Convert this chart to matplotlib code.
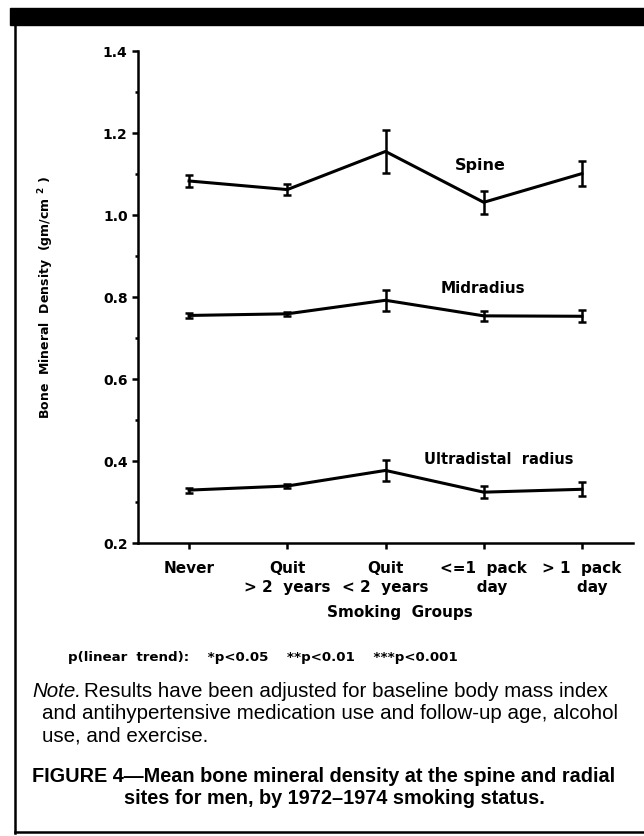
import numpy as np
import matplotlib
matplotlib.use("Agg")
import matplotlib.pyplot as plt
from matplotlib.ticker import MultipleLocator, FormatStrFormatter
from matplotlib.patches import Rectangle
from matplotlib.lines import Line2D

# smoking groups (x axis)
groups = ["Never", "Quit\n> 2  years", "Quit\n< 2  years", "<=1  pack\n   day", "> 1  pack\n    day"]

# mean bone mineral density and error bar half-widths
spine_mean = [1.083, 1.062, 1.155, 1.031, 1.101]
spine_err = [0.015, 0.013, 0.053, 0.028, 0.031]
mid_mean = [0.755, 0.759, 0.792, 0.754, 0.753]
mid_err = [0.006, 0.005, 0.025, 0.012, 0.015]
ultra_mean = [0.329, 0.339, 0.377, 0.324, 0.331]
ultra_err = [0.006, 0.005, 0.026, 0.014, 0.017]

series_names = ["Spine", "Midradius", "Ultradistal  radius"]

W, H = 644, 837
fig = plt.figure(figsize=(W / 100, H / 100), dpi=100)
fig.patch.set_facecolor("white")

# header bar and frame of the printed figure
fig.patches.append(Rectangle((10 / W, 1 - 26 / H), 1, 17 / H, transform=fig.transFigure,
                             color="black", zorder=0))
fig.lines.append(Line2D([15 / W, 15 / W], [1 - 26 / H, 1 - 834 / H], transform=fig.transFigure,
                        color="black", lw=1.8))
fig.lines.append(Line2D([15 / W, 1], [1 - 833 / H, 1 - 833 / H], transform=fig.transFigure,
                        color="black", lw=1.8))

ax = fig.add_axes([138 / W, 1 - 544 / H, (633 - 138) / W, (544 - 52) / H])
x = np.arange(len(groups))

for m, e in [(spine_mean, spine_err), (mid_mean, mid_err), (ultra_mean, ultra_err)]:
    ax.errorbar(x, m, yerr=e, color="black", lw=2.2, elinewidth=1.8,
                capsize=3.2, capthick=1.8)

bold = dict(family="DejaVu Sans", fontweight="bold")
ax.text(2.97, 1.123, series_names[0], fontsize=11.5, ha="center", va="center", **bold)
ax.text(2.99, 0.822, series_names[1], fontsize=11, ha="center", va="center", **bold)
ax.text(3.15, 0.405, series_names[2], fontsize=10.5, ha="center", va="center", **bold)

ax.set_xlim(-0.52, 4.52)
ax.set_ylim(0.2, 1.4)
ax.yaxis.set_major_locator(MultipleLocator(0.2))
ax.yaxis.set_minor_locator(MultipleLocator(0.1))
ax.yaxis.set_major_formatter(FormatStrFormatter("%.1f"))
ax.set_xticks(x)
ax.set_xticklabels(groups, fontsize=11, linespacing=1.3, **bold)
for lab in ax.get_yticklabels():
    lab.set_fontsize(10)
    lab.set_fontweight("bold")
    lab.set_family("DejaVu Sans")

ax.spines["top"].set_visible(False)
ax.spines["right"].set_visible(False)
ax.spines["left"].set_linewidth(1.8)
ax.spines["bottom"].set_linewidth(1.8)
ax.tick_params(axis="y", which="major", length=4.5, width=1.8, pad=3)
ax.tick_params(axis="y", which="minor", length=2.5, width=1.8)
ax.tick_params(axis="x", length=4.5, width=1.8, pad=8)

ax.set_ylabel("Bone  Mineral  Density  (gm/cm $^{\\mathbf{2}}$ )", fontsize=9, **bold)
ax.yaxis.set_label_coords(-0.165, 0.5)

fig.text(400 / W, 1 - 613 / H, "Smoking  Groups", fontsize=11,
         ha="center", va="center", **bold)

fig.text(68 / W, 1 - 658 / H, "p(linear  trend):    *p<0.05    **p<0.01    ***p<0.001",
         fontsize=9.6, ha="left", va="center", **bold)

note_font = dict(family="Liberation Sans", fontsize=14.8)
fig.text(32 / W, 1 - 692 / H, "Note.", style="italic", ha="left", va="center", **note_font)
fig.text(84 / W, 1 - 692 / H, "Results have been adjusted for baseline body mass index",
         ha="left", va="center", **note_font)
fig.text(42 / W, 1 - 714 / H, "and antihypertensive medication use and follow-up age, alcohol",
         ha="left", va="center", **note_font)
fig.text(42 / W, 1 - 736 / H, "use, and exercise.", ha="left", va="center", **note_font)

cap_font = dict(family="Liberation Sans", fontsize=14.3, fontweight="bold")
fig.text(32 / W, 1 - 777 / H, "FIGURE 4\u2014Mean bone mineral density at the spine and radial",
         ha="left", va="center", **cap_font)
fig.text(124 / W, 1 - 799 / H, "sites for men, by 1972\u20131974 smoking status.",
         ha="left", va="center", **cap_font)

fig.savefig("out.png", dpi=100)
